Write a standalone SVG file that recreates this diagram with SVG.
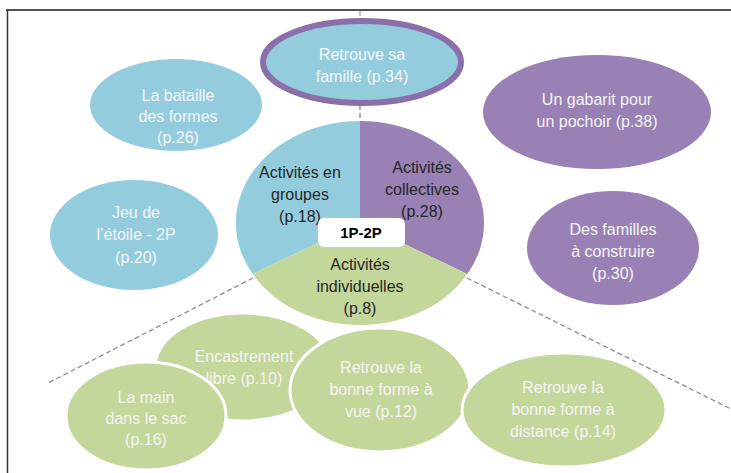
<svg xmlns="http://www.w3.org/2000/svg" width="731" height="473" viewBox="0 0 731 473">
<style>
.blue{fill:#93CDDD}
.purple{fill:#9A81B5}
.green{fill:#C4D79B}
.gw{fill:#C4D79B;stroke:#ffffff;stroke-width:3}
.lt{font-family:"Liberation Sans","Noto Sans",sans-serif;font-size:16px;fill:#F4F4F4;text-anchor:middle}
.dk{font-family:"Liberation Sans","Noto Sans",sans-serif;font-size:16px;fill:#262626;text-anchor:middle}
.dash{stroke:#8c8c8c;stroke-width:1.3;stroke-dasharray:5 3;fill:none}
</style>
<rect width="731" height="473" fill="#ffffff"/>
<g id="frame">
<line x1="6" y1="10" x2="731" y2="10" stroke="#1a1a1a" stroke-width="1.5"/>
<line x1="7.5" y1="10" x2="7.5" y2="473" stroke="#333333" stroke-width="1.5"/>
</g>
<g id="connectors">
<line x1="360" y1="11" x2="360" y2="16" stroke="#8c8c8c" stroke-width="1"/>
<line class="dash" x1="360" y1="105" x2="360" y2="121"/>
<line class="dash" x1="253" y1="278" x2="48" y2="383"/>
<line class="dash" x1="467" y1="278" x2="731" y2="409"/>
</g>
<g id="n-retrouve-famille">
<ellipse cx="362" cy="62" rx="99" ry="41" fill="#93CDDD" stroke="#8A6FAA" stroke-width="6"/>
<text class="lt" x="362" y="60">Retrouve sa</text>
<text class="lt" x="362" y="82">famille (p.34)</text>
</g>
<g id="n-bataille">
<ellipse class="blue" cx="176" cy="105" rx="86" ry="46"/>
<text class="lt" x="178" y="101">La bataille</text>
<text class="lt" x="178" y="122">des formes</text>
<text class="lt" x="178" y="143">(p.26)</text>
</g>
<g id="n-etoile">
<ellipse class="blue" cx="134" cy="235" rx="84" ry="55"/>
<text class="lt" x="136" y="218">Jeu de</text>
<text class="lt" x="136" y="240">l’étoile - 2P</text>
<text class="lt" x="136" y="263">(p.20)</text>
</g>
<g id="n-gabarit">
<ellipse class="purple" cx="597" cy="112" rx="114" ry="57"/>
<text class="lt" x="597" y="105">Un gabarit pour</text>
<text class="lt" x="597" y="127">un pochoir (p.38)</text>
</g>
<g id="n-familles">
<ellipse class="purple" cx="613" cy="248" rx="86" ry="57"/>
<text class="lt" x="613" y="235">Des familles</text>
<text class="lt" x="613" y="257">à construire</text>
<text class="lt" x="613" y="279">(p.30)</text>
</g>
<g id="n-pie">
<path class="blue" d="M360,223 L360,121 A124,102 0 0 0 252.6,274 Z"/>
<path class="purple" d="M360,223 L360,121 A124,102 0 0 1 467.4,274 Z"/>
<path class="green" d="M360,223 L252.6,274 A124,102 0 0 0 467.4,274 Z"/>
<text class="dk" x="300" y="178">Activités en</text>
<text class="dk" x="300" y="200">groupes</text>
<text class="dk" x="300" y="222">(p.18)</text>
<text class="dk" x="422" y="173">Activités</text>
<text class="dk" x="422" y="195">collectives</text>
<text class="dk" x="422" y="217">(p.28)</text>
<text class="dk" x="360" y="270">Activités</text>
<text class="dk" x="360" y="292">individuelles</text>
<text class="dk" x="360" y="314">(p.8)</text>
<rect x="318" y="218" width="87" height="29" rx="6" fill="#ffffff"/>
<text class="dk" x="361" y="238" style="font-weight:bold;fill:#000;font-size:15px">1P-2P</text>
</g>
<g id="n-encastrement">
<ellipse class="gw" cx="243" cy="367" rx="88" ry="54"/>
<text class="lt" x="244" y="362">Encastrement</text>
<text class="lt" x="244" y="384">libre (p.10)</text>
</g>
<g id="n-main-sac">
<ellipse class="gw" cx="146" cy="416" rx="80" ry="54"/>
<text class="lt" x="146" y="403">La main</text>
<text class="lt" x="146" y="424">dans le sac</text>
<text class="lt" x="146" y="445">(p.16)</text>
</g>
<g id="n-forme-vue">
<ellipse class="gw" cx="380" cy="390" rx="90" ry="62"/>
<text class="lt" x="381" y="373">Retrouve la</text>
<text class="lt" x="381" y="395">bonne forme à</text>
<text class="lt" x="381" y="417">vue (p.12)</text>
</g>
<g id="n-forme-distance">
<ellipse class="gw" cx="564" cy="410" rx="102" ry="57"/>
<text class="lt" x="563" y="393">Retrouve la</text>
<text class="lt" x="563" y="415">bonne forme à</text>
<text class="lt" x="563" y="437">distance (p.14)</text>
</g>
</svg>
